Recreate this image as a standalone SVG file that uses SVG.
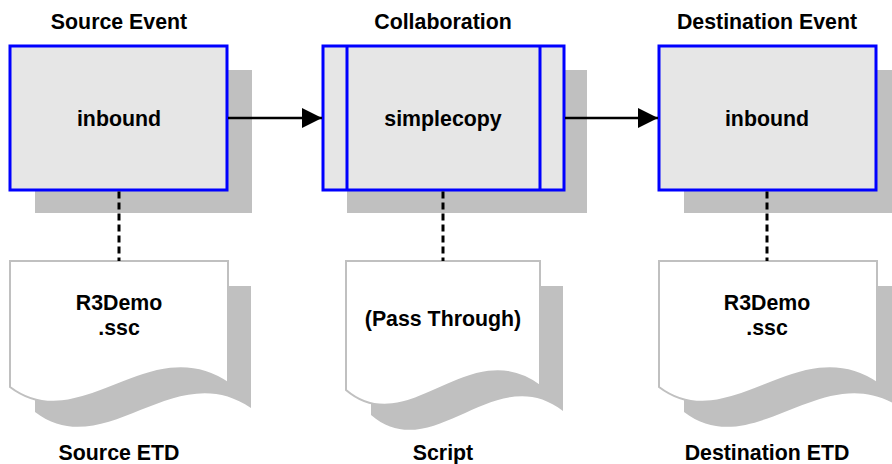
<svg xmlns="http://www.w3.org/2000/svg" width="892" height="464" viewBox="0 0 892 464">
<style>
.t{font-family:"Liberation Sans",Arial,sans-serif;font-weight:bold;font-size:21.33px;fill:#000;text-anchor:middle}
.sh{fill:#c0c0c0}
.box{fill:#e6e6e6;stroke:#0000ff;stroke-width:3}
.doc{fill:#fff;stroke:#c0c0c0;stroke-width:2}
.dash{stroke:#000;stroke-width:3;stroke-dasharray:7,4;fill:none}
.arr{stroke:#000;stroke-width:2.5;fill:none}
</style>
<defs>
<marker id="ah" viewBox="0 0 20 20" refX="20" refY="10" markerUnits="userSpaceOnUse" markerWidth="20" markerHeight="20" orient="auto">
<path d="M0,0 L20,10 L0,20 Z" fill="#000"/>
</marker>
</defs>
<rect width="892" height="464" fill="#fff"/>
<g id="source-event">
<rect class="sh" x="35" y="70" width="217" height="143"/>
<rect class="box" x="10" y="46" width="217" height="144"/>
<text class="t" x="119" y="29">Source Event</text>
<text class="t" x="119" y="126">inbound</text>
</g>
<g id="collaboration">
<rect class="sh" x="347" y="70" width="240" height="143"/>
<rect class="box" x="323" y="46" width="241" height="144"/>
<line x1="347" y1="46" x2="347" y2="190" stroke="#0000ff" stroke-width="3"/>
<line x1="540" y1="46" x2="540" y2="190" stroke="#0000ff" stroke-width="3"/>
<text class="t" x="443" y="29">Collaboration</text>
<text class="t" x="443" y="126">simplecopy</text>
</g>
<g id="destination-event">
<rect class="sh" x="684" y="70" width="217" height="143"/>
<rect class="box" x="659" y="46" width="217" height="144"/>
<text class="t" x="767" y="29">Destination Event</text>
<text class="t" x="767" y="126">inbound</text>
</g>
<g id="source-etd">
<path class="sh" d="M35,286 H251 V408 C174,355 105,465 35,412 Z"/>
<path class="doc" d="M10,261 H228 V383 C150,330 80,440 10,387 Z"/>
<text class="t" x="119" y="310">R3Demo</text>
<text class="t" x="119" y="335">.ssc</text>
<text class="t" x="119" y="460">Source ETD</text>
</g>
<g id="script">
<path class="sh" d="M371,286 H563 V411 C495,358 433,468 371,415 Z"/>
<path class="doc" d="M346,261 H540 V386 C470,333 408,443 346,390 Z"/>
<text class="t" x="443" y="326">(Pass Through)</text>
<text class="t" x="443" y="460">Script</text>
</g>
<g id="destination-etd">
<path class="sh" d="M684,286 H901 V408 C823,355 754,465 684,412 Z"/>
<path class="doc" d="M659,261 H877 V383 C799,330 729,440 659,387 Z"/>
<text class="t" x="767" y="310">R3Demo</text>
<text class="t" x="767" y="335">.ssc</text>
<text class="t" x="767" y="460">Destination ETD</text>
</g>
<g id="connectors">
<line class="arr" x1="228" y1="118" x2="322" y2="118" marker-end="url(#ah)"/>
<line class="arr" x1="565" y1="118" x2="658" y2="118" marker-end="url(#ah)"/>
<line class="dash" x1="119" y1="191.5" x2="119" y2="261"/>
<line class="dash" x1="443" y1="191.5" x2="443" y2="261"/>
<line class="dash" x1="767" y1="191.5" x2="767" y2="261"/>
</g>
</svg>
